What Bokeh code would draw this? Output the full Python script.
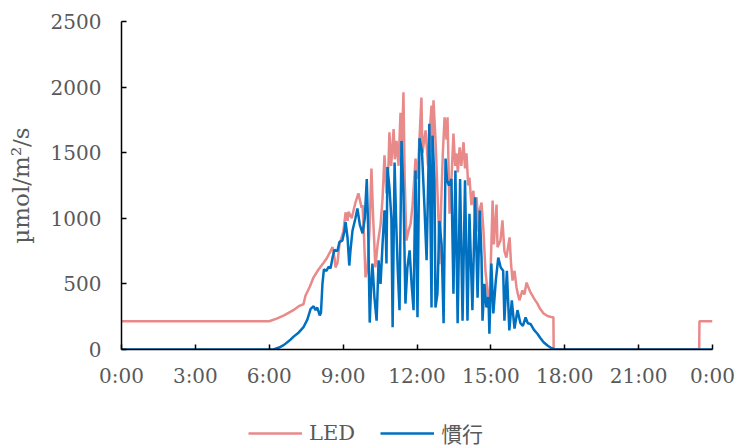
from bokeh.plotting import figure
from bokeh.layouts import column
from bokeh.models import Range1d, FixedTicker, Legend, LegendItem
from bokeh.embed import file_html
from bokeh.resources import INLINE

# ---- data (hours of day, µmol/m²/s) ----
hour_ticks = [0, 3, 6, 9, 12, 15, 18, 21, 24]
hour_labels = ["0:00", "3:00", "6:00", "9:00", "12:00", "15:00", "18:00", "21:00", "0:00"]
y_ticks = [0, 500, 1000, 1500, 2000, 2500]
series_names = ["LED", "慣行"]

led = [
    (0.0, 215), (6.0, 215), (6.3, 235), (6.6, 260), (6.98, 300), (7.2, 330), (7.39, 345),
    (7.47, 410), (7.65, 480), (7.8, 550), (8.0, 610), (8.2, 660), (8.35, 700), (8.49, 750),
    (8.57, 780), (8.65, 700), (8.69, 625), (8.77, 660), (8.85, 800), (9.01, 900), (9.1, 1045),
    (9.18, 980), (9.22, 1050), (9.35, 1000), (9.5, 1120), (9.62, 1190), (9.75, 1080),
    (9.79, 1100), (9.85, 850), (9.91, 550), (9.99, 620), (10.07, 900), (10.15, 1380),
    (10.22, 1000), (10.31, 625), (10.4, 800), (10.52, 950), (10.6, 1150), (10.64, 1310),
    (10.68, 1480), (10.76, 1190), (10.84, 1400), (10.88, 1655), (10.95, 1400), (11.05, 1680),
    (11.1, 1450), (11.17, 1590), (11.25, 1400), (11.33, 1805), (11.38, 1500), (11.45, 1960),
    (11.5, 1300), (11.57, 830), (11.65, 900), (11.74, 960), (11.82, 1100), (11.94, 1455),
    (12.02, 1300), (12.1, 1600), (12.18, 1920), (12.22, 1500), (12.35, 1670), (12.45, 1400),
    (12.55, 1750), (12.59, 1860), (12.63, 1500), (12.67, 1900), (12.75, 1600), (12.79, 1415),
    (12.87, 1000), (12.91, 650), (12.98, 1100), (13.05, 1500), (13.12, 1770), (13.2, 1600),
    (13.24, 1770), (13.32, 1035), (13.4, 1300), (13.48, 1645), (13.55, 1400), (13.6, 1495),
    (13.66, 1350), (13.73, 1540), (13.8, 1400), (13.89, 1580), (13.95, 1380), (14.01, 1495),
    (14.08, 1250), (14.13, 1310), (14.21, 1100), (14.29, 1210), (14.36, 1000), (14.42, 1160),
    (14.5, 900), (14.54, 1060), (14.62, 1120), (14.7, 900), (14.78, 600), (14.86, 450),
    (14.94, 320), (15.02, 800), (15.07, 1135), (15.12, 800), (15.23, 1105), (15.27, 780),
    (15.39, 830), (15.47, 985), (15.55, 750), (15.63, 700), (15.76, 855), (15.82, 650),
    (15.88, 525), (15.96, 600), (16.04, 475), (16.1, 420), (16.16, 375), (16.28, 450),
    (16.36, 420), (16.45, 510), (16.53, 470), (16.61, 435), (16.75, 390), (16.89, 350),
    (17.0, 310), (17.14, 275), (17.3, 255), (17.5, 245), (17.54, 245), (17.55, 0),
    (23.46, 0), (23.47, 215), (24.0, 215),
]

conventional = [
    (0.0, 0), (6.17, 0), (6.4, 15), (6.6, 35), (6.86, 75), (7.0, 100), (7.2, 130), (7.39, 170),
    (7.55, 230), (7.68, 310), (7.8, 330), (7.88, 300), (7.95, 320), (8.05, 260), (8.1, 280),
    (8.16, 500), (8.22, 610), (8.32, 600), (8.41, 630), (8.49, 620), (8.57, 700), (8.65, 760),
    (8.77, 750), (8.85, 820), (8.97, 830), (9.05, 900), (9.1, 970), (9.18, 850), (9.25, 640),
    (9.3, 760), (9.38, 905), (9.5, 1000), (9.58, 1075), (9.68, 950), (9.79, 885), (9.88, 1000),
    (9.96, 1300), (10.02, 900), (10.08, 205), (10.14, 500), (10.19, 655), (10.27, 400),
    (10.36, 220), (10.44, 680), (10.52, 500), (10.6, 800), (10.68, 1060), (10.72, 980),
    (10.76, 655), (10.8, 1390), (10.88, 1235), (10.96, 1000), (11.01, 170), (11.09, 1425),
    (11.15, 1000), (11.22, 600), (11.29, 300), (11.37, 1590), (11.45, 1200), (11.53, 350),
    (11.61, 625), (11.7, 755), (11.78, 500), (11.86, 300), (11.94, 1365), (12.02, 245),
    (12.1, 1610), (12.2, 1515), (12.3, 1100), (12.39, 680), (12.5, 1720), (12.59, 320),
    (12.63, 1630), (12.71, 1290), (12.75, 320), (12.83, 425), (12.91, 980), (13.0, 800),
    (13.08, 200), (13.16, 1455), (13.22, 1290), (13.3, 1250), (13.4, 1300), (13.48, 425),
    (13.56, 1365), (13.65, 200), (13.75, 1300), (13.85, 220), (13.95, 1290), (14.05, 220),
    (14.13, 1035), (14.25, 300), (14.36, 1160), (14.46, 395), (14.55, 1060), (14.62, 700),
    (14.66, 220), (14.74, 500), (14.82, 320), (14.9, 400), (14.94, 120), (15.02, 655),
    (15.1, 275), (15.2, 525), (15.3, 700), (15.4, 625), (15.5, 600), (15.55, 220), (15.65, 600),
    (15.75, 145), (15.85, 375), (15.96, 160), (16.08, 300), (16.2, 200), (16.3, 180),
    (16.41, 245), (16.5, 200), (16.61, 195), (16.75, 150), (16.89, 120), (17.0, 90),
    (17.14, 55), (17.3, 30), (17.42, 15), (17.6, 0), (24.0, 0),
]

led_t = [t for t, v in led]
led_v = [v for t, v in led]
conv_t = [t for t, v in conventional]
conv_v = [v for t, v in conventional]

FONT = "DejaVu Serif, Noto Sans CJK JP"
GRAY = "#595959"
LED_COLOR = "#E98A8A"
CONV_COLOR = "#0070C0"
LW = 2.5

p = figure(width=737, height=410, output_backend="svg", toolbar_location=None,
           x_range=Range1d(0, 24), y_range=Range1d(0, 2500),
           min_border_left=121, min_border_right=25, min_border_top=21, min_border_bottom=61)
p.background_fill_color = "white"
p.border_fill_color = "white"
p.outline_line_color = None
p.xgrid.visible = False
p.ygrid.visible = False

p.line(led_t, led_v, line_color=LED_COLOR, line_width=LW)
p.line(conv_t, conv_v, line_color=CONV_COLOR, line_width=LW)

for ax in (p.xaxis[0], p.yaxis[0]):
    ax.axis_line_color = "black"
    ax.axis_line_width = 1.5
    ax.major_tick_line_color = "black"
    ax.major_tick_line_width = 1.5
    ax.major_tick_in = 5
    ax.major_tick_out = 0
    ax.minor_tick_in = 0
    ax.minor_tick_out = 0
    ax.major_label_text_font = FONT
    ax.major_label_text_font_size = "20px"
    ax.major_label_text_color = GRAY

p.xaxis.ticker = FixedTicker(ticks=hour_ticks)
p.xaxis.major_label_overrides = {t: lab for t, lab in zip(hour_ticks, hour_labels)}
p.xaxis.major_label_standoff = 14

p.yaxis.ticker = FixedTicker(ticks=y_ticks)
p.yaxis.major_label_standoff = 20
p.yaxis.axis_label = "µmol/m²/s"
p.yaxis.axis_label_text_font = FONT
p.yaxis.axis_label_text_font_size = "23px"
p.yaxis.axis_label_text_font_style = "normal"
p.yaxis.axis_label_text_color = GRAY
p.yaxis.axis_label_standoff = 14

# legend strip below the chart (frame is aligned with the chart's frame)
lf = figure(width=737, height=38, output_backend="svg", toolbar_location=None,
            x_range=Range1d(0, 1), y_range=Range1d(0, 1),
            x_axis_location=None, y_axis_location=None,
            min_border=0, min_border_left=0, min_border_right=0,
            min_border_top=0, min_border_bottom=0)
lf.outline_line_color = None
lf.xgrid.visible = False
lf.ygrid.visible = False
nan = float("nan")
k_led = lf.line([nan], [nan], line_color=LED_COLOR, line_width=LW)
k_conv = lf.line([nan], [nan], line_color=CONV_COLOR, line_width=LW)

legend = Legend(items=[LegendItem(label=series_names[0], renderers=[k_led]),
                       LegendItem(label=series_names[1], renderers=[k_conv])],
                orientation="horizontal", location=(127, 0))
legend.padding = 0
legend.margin = 0
legend.spacing = 25
legend.glyph_width = 54
legend.glyph_height = 20
legend.label_standoff = 7
legend.label_text_font = FONT
legend.label_text_font_size = "21px"
legend.label_text_color = GRAY
legend.border_line_color = None
legend.background_fill_alpha = 0
lf.add_layout(legend, "center")

layout = column(p, lf, spacing=0)
open("out.html", "w").write(file_html(layout, INLINE))
